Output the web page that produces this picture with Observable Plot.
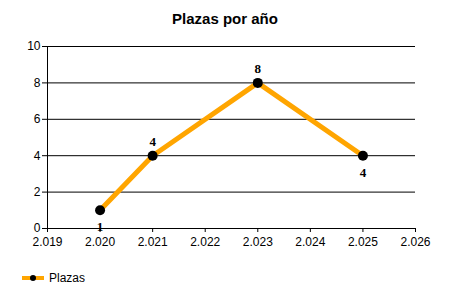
<!DOCTYPE html>
<html><head><meta charset="utf-8">
<script src="https://cdn.jsdelivr.net/npm/d3@7"></script>
<script src="https://cdn.jsdelivr.net/npm/@observablehq/plot@0.6"></script>
<style>
body{margin:0;background:#fff;width:450px;height:300px;overflow:hidden;font-family:"Liberation Sans",Arial,sans-serif;}
#title{height:35px;box-sizing:border-box;padding-top:10px;line-height:17px;text-align:center;font-weight:bold;font-size:15px;color:#000;}
#legend{height:40px;}
.vlabel text{font-family:"Liberation Serif","Times New Roman",serif !important;font-weight:bold;font-size:13px;}
</style></head><body>
<div id="title"></div>
<div id="chart"></div>
<div id="legend"></div>
<script>
const title = "Plazas por año";
const seriesName = "Plazas";
const years = [2020, 2021, 2023, 2025];
const plazas = [1, 4, 8, 4];
const xTicks = [2019, 2020, 2021, 2022, 2023, 2024, 2025, 2026];
const yTicks = [0, 2, 4, 6, 8, 10];

const data = years.map((y, i) => ({year: y, value: plazas[i],
  below: i === 0 ? plazas[i] < plazas[i+1] : plazas[i] < plazas[i-1]}));
const fmt = d3.formatLocale({decimal: ",", thousands: ".", grouping: [3]}).format(",");

document.getElementById("title").textContent = title;

const orange = "#FFA500";
const serif = "'Liberation Serif', 'Times New Roman', serif";
const chart = Plot.plot({
  width: 450, height: 225,
  marginTop: 11, marginBottom: 32, marginLeft: 47, marginRight: 35,
  style: {fontFamily: "'Liberation Sans', Arial, sans-serif", fontSize: "12px", color: "#000", background: "#fff"},
  x: {domain: [2019, 2026], ticks: xTicks, tickFormat: fmt, tickSize: 4, tickPadding: 5, label: null},
  y: {domain: [0, 10], ticks: yTicks, tickSize: 5, tickPadding: 2, label: null},
  marks: [
    Plot.ruleY(yTicks, {stroke: "#000", strokeWidth: 1, strokeOpacity: 1}),
    Plot.ruleX([2019], {stroke: "#000", strokeWidth: 1}),
    Plot.line(data, {x: "year", y: "value", stroke: orange, strokeWidth: 5, strokeLinejoin: "round"}),
    Plot.dot(data, {x: "year", y: "value", r: 5, fill: "#000", stroke: "none"}),
    Plot.text(data.filter(d => !d.below), {x: "year", y: "value", text: d => String(d.value), dy: -14,
      fontFamily: serif, fontWeight: "bold", fontSize: 13, fill: "#000", className: "vlabel"}),
    Plot.text(data.filter(d => d.below), {x: "year", y: "value", text: d => String(d.value), dy: 17,
      fontFamily: serif, fontWeight: "bold", fontSize: 13, fill: "#000", className: "vlabel"})
  ]
});
chart.querySelectorAll('[aria-label="y-axis tick"] path, [aria-label="x-axis tick"] path').forEach(p => p.setAttribute("stroke", "#000"));
chart.querySelectorAll('.vlabel, .vlabel text').forEach(t => { t.setAttribute("font-family", serif); t.style.fontFamily = serif; });
document.getElementById("chart").appendChild(chart);

const lg = d3.select("#legend").append("svg").attr("width", 450).attr("height", 40);
lg.append("line").attr("x1", 22).attr("x2", 44).attr("y1", 18).attr("y2", 18).attr("stroke", orange).attr("stroke-width", 4);
lg.append("circle").attr("cx", 33).attr("cy", 18).attr("r", 3).attr("fill", "#000");
lg.append("text").attr("x", 49).attr("y", 22).attr("font-size", 12).attr("font-family", "'Liberation Sans', Arial, sans-serif").attr("fill", "#000").text(seriesName);
</script>
</body></html>
